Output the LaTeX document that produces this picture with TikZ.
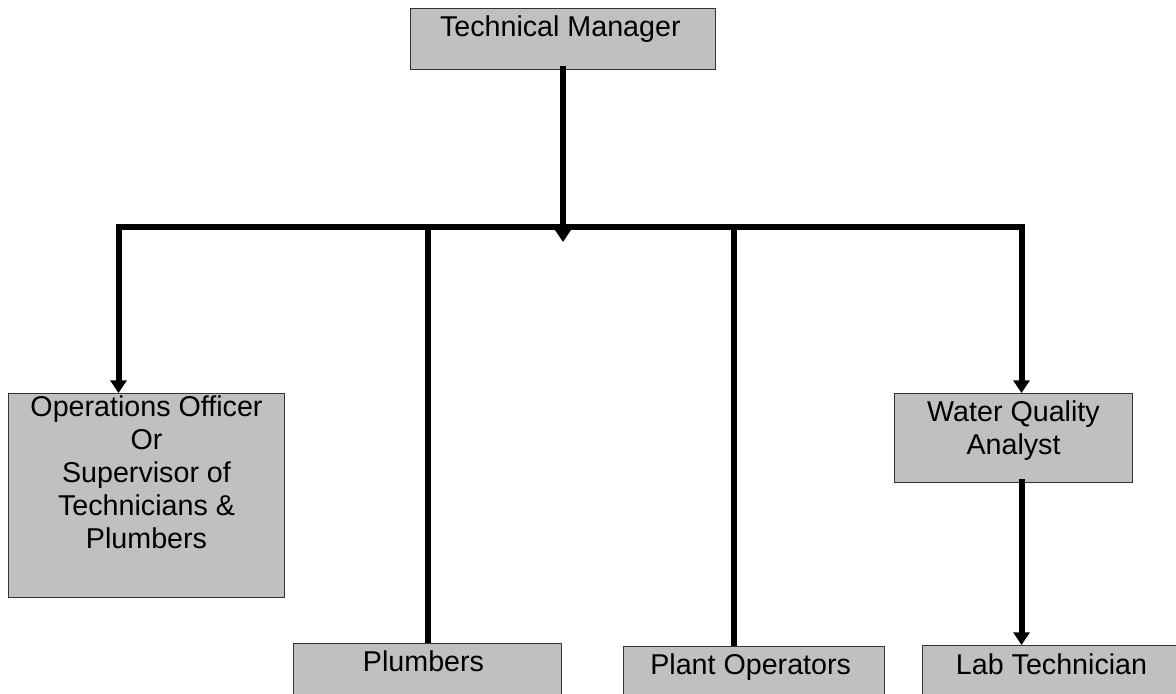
\documentclass[tikz,border=0pt]{standalone}
\usepackage{fontspec}
\setmainfont{Liberation Sans}
\usetikzlibrary{arrows.meta, positioning}
\usepackage{xcolor}
\definecolor{boxgray}{HTML}{C0C0C0}
\definecolor{boxedge}{HTML}{333333}

\begin{document}
\begin{tikzpicture}[
    x=0.75pt, y=-0.75pt,
    post/.style={
        rectangle,
        anchor=north west,
        draw=boxedge,
        line width=0.75pt,
        fill=boxgray,
        inner sep=0pt,
        minimum width=#1
    },
    title/.style={
        anchor=north,
        inner sep=0pt,
        align=center,
        font=\fontsize{21.5}{24.75}\selectfont
    },
    link/.style={
        line width=4.5pt,
        black
    },
    arrow/.style={
        link,
        -{Triangle[width=12pt,length=9.5pt]}
    }
]

% Canvas
\useasboundingbox (0,0) rectangle (1176,693);
\clip (0,0) rectangle (1176,693);

% Posts
\node[post=228.75pt, minimum height=45.75pt,
      label={[title, yshift=-5.25pt, xshift=-2pt]north:Technical Manager}] (tm) at (410,8) {};
\node[post=207pt, minimum height=153pt,
      label={[title, yshift=-1.5pt]north:Operations Officer\\Or\\Supervisor of\\Technicians \&\\Plumbers}] (ops) at (8,393) {};
\node[post=178.5pt, minimum height=66.75pt,
      label={[title, yshift=-5.25pt]north:Water Quality\\Analyst}] (wq) at (894,393) {};
\node[post=201pt, minimum height=60pt,
      label={[title, yshift=-5.25pt, xshift=-3pt]north:Plumbers}] (plumb) at (293,643) {};
\node[post=195.75pt, minimum height=60pt,
      label={[title, yshift=-5.25pt, xshift=-2.5pt]north:Plant Operators}] (plant) at (623,646) {};
\node[post=193.5pt, minimum height=60pt,
      label={[title, yshift=-6pt]north:Lab Technician}] (lab) at (922,645) {};

% Bus
\coordinate (bus) at (561,227);
\coordinate (hub) at (561,242);

% Connections
\draw[link, {Triangle[width=12pt,length=9.5pt]}-{Triangle[width=12pt,length=9.5pt]}]
    ([xshift=-21pt]ops.north) |- (bus) -| ([xshift=6pt]wq.north);
\draw[arrow] ([yshift=3pt]tm.south) -- (tm.south |- hub);
\draw[link] (plumb.north |- bus) -- (plumb.north);
\draw[link] ([xshift=-15pt]plant.north |- bus) -- ([xshift=-15pt]plant.north);
\draw[arrow] ([xshift=6pt, yshift=3pt]wq.south) -- ([xshift=6pt]wq.south |- lab.north);

\end{tikzpicture}
\end{document}
